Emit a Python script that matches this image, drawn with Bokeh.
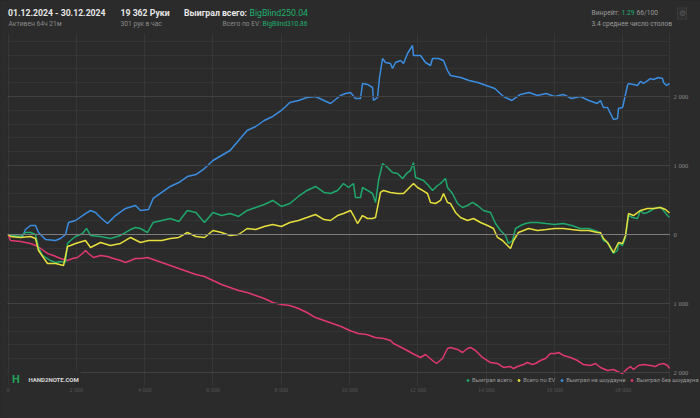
from bokeh.plotting import figure
from bokeh.models import (Range1d, FixedTicker, Span, Label, Legend, LegendItem,
                          ColumnDataSource, BoxAnnotation)
from bokeh.embed import file_html
from bokeh.resources import INLINE

# ---------------- data (hands played -> big blinds) ----------------
TOTAL_HANDS = 19362

# "Выиграл на шоудауне"
sd_hands = ([0, 249, 424, 512, 659, 805, 893, 1098, 1390, 1537, 1683, 1771, 1976, 2268, 2415, 2561,
             2707, 2912, 3147, 3439, 3732, 3878, 4113]
            + list(range(4250, 9251, 250))
            + [9440, 9733, 9879, 10025, 10171, 10318, 10376, 10523, 10669, 10698, 10815, 10874, 10962,
               11050, 11196, 11255, 11343, 11489, 11577, 11694, 11840, 11869, 12074, 12220, 12367,
               12425, 12601, 12747, 12864, 12952]
            + list(range(13250, 17251, 250))
            + [17342, 17430, 17547, 17635, 17723, 17840, 17869, 17986, 18015, 18132, 18162, 18308,
               18425, 18513, 18601, 18718, 18806, 18894, 19040, 19157, 19186, 19274, TOTAL_HANDS])
sd_bb = [0, -29, -29, 72, 130, 130, 29, -72, -87, -58, 0, 174, 203, 304, 348, 319, 246, 159, 275, 377,
         420, 348, 362,
         522, 609, 696, 753, 840, 869, 956, 1072, 1145, 1217, 1362, 1507, 1565, 1652, 1710, 1797, 1913,
         1942, 1985, 2000, 1942,
         1898, 2014, 2043, 2058, 1971, 1971, 2188, 2174, 2130, 1942, 1985, 2275, 2550, 2492, 2478, 2405,
         2492, 2521, 2478, 2623, 2739, 2594, 2594, 2492, 2449, 2550, 2550, 2521, 2376, 2304,
         2275, 2231, 2202, 2159, 2115, 2000, 1942, 2029, 2058, 2014, 2043, 2000, 2029, 1971, 2000, 1942,
         1898,
         1942, 1840, 1840, 1753, 1666, 1681, 1826, 1840, 1898, 2159, 2188, 2174, 2159, 2217, 2188, 2231,
         2260, 2246, 2275, 2260, 2202, 2159, 2188]

# "Выиграл всего"
tot_hands = ([0, 73, 366, 512, 659, 805, 893, 1010, 1244, 1390, 1537, 1683, 1742, 1829, 1976, 2181,
              2298, 2415, 2707, 3000, 3293, 3586, 3732, 3878, 4083]
             + list(range(4250, 9251, 250))
             + [9440, 9645, 9820, 9967, 10113, 10171, 10318, 10376, 10523, 10669, 10757, 10845, 10962,
                11108, 11255, 11401, 11548, 11694, 11782, 11869, 11928, 12016, 12162, 12308, 12425,
                12572, 12659, 12806, 12864, 13010, 13157, 13303, 13449, 13596, 13742, 13918, 14123,
                14269, 14416, 14562, 14650, 14767, 14855, 15001, 15147, 15294]
             + list(range(15500, 17251, 250))
             + [17342, 17430, 17547, 17635, 17723, 17840, 17869, 17986, 18074, 18162, 18279, 18425,
                18513, 18601, 18718, 18864, 19010, 19098, 19186, 19303, TOTAL_HANDS])
tot_bb = [0, -14, -29, 29, 29, 0, -188, -304, -377, -406, -391, -406, -130, -87, -29, 14, 87, -14, -29,
          -58, -14, 72, 101, 87, 29,
          174, 203, 232, 188, 348, 319, 174, 319, 275, 304, 261, 348, 391, 435, 493, 406, 449, 551,
          638, 696, 609,
          594, 638, 739, 681, 739, 536, 536, 681, 638, 594, 464, 782, 1029, 971, 898, 884, 811, 898,
          927, 1043, 826, 811, 782, 710, 638, 710, 739, 811, 681, 594, 449, 391, 420, 464, 420, 348,
          319, 159, 58, -14, -130, -87, 87, 130, 159, 174,
          174, 159, 145, 159, 130, 87, 87, 43,
          14, -87, -116, -203, -275, -232, -130, -159, -43, 275, 246, 232, 348, 304, 319, 362, 391, 391,
          348, 275, 250]

# "Всего по EV"
ev_hands = ([0, 73, 366, 659, 805, 893, 1156, 1390, 1625, 1742, 1829, 1976, 2268, 2415, 2707, 3000,
             3293, 3586, 3878, 4113]
            + list(range(4250, 9251, 250))
            + [9440, 9645, 9820, 10025, 10113, 10230, 10376, 10523, 10669, 10757, 10903, 10991, 11196,
               11401, 11577, 11723, 11869, 11986, 12133, 12279, 12367, 12513, 12659, 12747, 12864,
               12952, 13098, 13245, 13449, 13625, 13830, 14035, 14211, 14328, 14474, 14620, 14708,
               14796, 14942, 15089, 15235]
            + list(range(15500, 17251, 250))
            + [17342, 17430, 17547, 17635, 17723, 17869, 17986, 18074, 18162, 18308, 18513, 18718,
               18894, 19098, 19245, TOTAL_HANDS])
ev_bb = [0, -29, -43, -29, -58, -232, -420, -420, -449, -174, -159, -130, -87, -188, -116, -159, -130,
         -43, -116, -87,
         -87, -87, -58, -43, 29, -29, -43, 58, 29, -14, 0, 87, 72, 116, 145, 116, 174, 203, 246, 290,
         217,
         203, 275, 304, 348, 275, 159, 275, 232, 232, 246, 609, 638, 609, 594, 594, 667, 739, 681, 638,
         594, 464, 449, 493, 594, 464, 449, 319, 246, 203, 232, 174, 130, 87, -43, -87, -159, -203, -87,
         29, 58, 87,
         58, 72, 87, 87, 72, 58, 58, 29,
         29, -58, -116, -188, -261, -116, -130, -14, 304, 275, 348, 377, 377, 391, 362, 311]

# "Выиграл без шоудауна"
nsd_hands = ([0, 73, 366, 512, 659, 805, 951, 1156, 1332, 1537, 1742, 1888, 2034, 2181, 2268, 2356,
              2503, 2707, 2912, 3088, 3293, 3439, 3586, 3732, 3878, 4083]
             + list(range(4250, 11001, 250))
             + [11196, 11284, 11577, 11840, 12074, 12220, 12425, 12542, 12718, 12864, 12952, 13157,
                13303, 13449, 13537, 13684, 13889, 14123, 14328, 14503, 14708, 14796, 14913, 15089,
                15206, 15352, 15440, 15586, 15733, 15879, 16025, 16113, 16259, 16464, 16669, 16845,
                17050, 17196, 17342, 17547, 17723, 17840, 17986, 18132, 18220, 18308, 18454, 18601,
                18806, 18952, 19040, 19186, 19303, TOTAL_HANDS])
nsd_bb = [0, -87, -101, -116, -130, -159, -203, -275, -304, -348, -377, -348, -333, -275, -232, -275,
          -333, -304, -319, -348, -377, -406, -377, -348, -348, -333,
          -362, -406, -449, -493, -536, -580, -609, -667, -725, -768, -811, -840, -884, -927, -985,
          -1014, -1029, -1072, -1130, -1203, -1246, -1290, -1333, -1391, -1435, -1449, -1492, -1507,
          -1536, -1579, -1652, -1724, -1782, -1739, -1826, -1869, -1797, -1652, -1637, -1666, -1710,
          -1652, -1637, -1681, -1782, -1855, -1869, -1927, -1913, -1942, -1913, -1884, -1855, -1884,
          -1869, -1826, -1797, -1724, -1724, -1710, -1753, -1782, -1826, -1884, -1898, -1869, -1927,
          -1971, -1956, -1985, -2014, -1942, -1913, -1956, -1898, -1884, -1898, -1913, -1884, -1869,
          -1898, -1942]

series_names = ["Выиграл всего", "Всего по EV", "Выиграл на шоудауне", "Выиграл без шоудауна"]
series_colors = ["#1fa86b", "#e6df3c", "#3b8de0", "#e0386f"]
x_ticks = list(range(0, 19000, 2000))
y_ticks = [-2000, -1000, 0, 1000, 2000]
y_minor = list(range(-2200, 3000, 200))
y_major_lines = [-2000, -1000, 1000, 2000]

# ---------------- geometry (frame = whole canvas, pixel layout of the page) ----------------
W, H = 700, 418
LEFT_PX, RIGHT_PX = 7.5, 669.0       # chart area horizontally
TOP_PX, BOTTOM_PX = 33.0, 385.0      # chart area vertically
ZERO_PX = 234.0                      # y pixel of value 0
UNITS_PER_PX = 14.49
HPX = TOTAL_HANDS / (RIGHT_PX - LEFT_PX)   # hands per pixel


def hx(px):
    return (px - LEFT_PX) * HPX


def vy(py):
    return (ZERO_PX - py) * UNITS_PER_PX


BG = "#2b2b2b"
GREEN = "#1fb06e"

p = figure(width=W, height=H, output_backend="svg", toolbar_location=None,
           x_range=Range1d(hx(0), hx(W)), y_range=Range1d(vy(H), vy(0)),
           background_fill_color=BG, border_fill_color=BG,
           min_border_left=0, min_border_right=0, min_border_top=0, min_border_bottom=0)
p.outline_line_color = None
p.xaxis.visible = False
p.yaxis.visible = False

p.xgrid.ticker = FixedTicker(ticks=x_ticks + [TOTAL_HANDS])
p.xgrid.grid_line_color = "#363636"
p.ygrid.ticker = FixedTicker(ticks=y_minor)
p.ygrid.grid_line_color = "#343434"

for v in y_major_lines:
    p.add_layout(Span(location=v, dimension="width", line_color="#424242", line_width=1))
p.add_layout(Span(location=0, dimension="width", line_color="#7c7c7c", line_width=1))

series = [(tot_hands, tot_bb), (ev_hands, ev_bb), (sd_hands, sd_bb), (nsd_hands, nsd_bb)]
for i in [2, 3, 0, 1]:
    xs, ys = series[i]
    p.line(x=xs, y=ys, line_color=series_colors[i], line_width=1.5)

# mask the grid outside the chart area
p.add_layout(BoxAnnotation(bottom=vy(TOP_PX), fill_color=BG, fill_alpha=1, line_alpha=0))
p.add_layout(BoxAnnotation(top=vy(BOTTOM_PX), fill_color=BG, fill_alpha=1, line_alpha=0))
p.add_layout(BoxAnnotation(left=hx(RIGHT_PX + 0.5), fill_color=BG, fill_alpha=1, line_alpha=0))
p.add_layout(BoxAnnotation(right=hx(LEFT_PX - 0.5), fill_color=BG, fill_alpha=1, line_alpha=0))
# watermark panel
p.add_layout(BoxAnnotation(left=hx(LEFT_PX + 0.6), right=hx(80), top=vy(371), bottom=vy(BOTTOM_PX),
                           fill_color=BG, fill_alpha=1, line_alpha=0))


def fmt(v):
    return f"{abs(v):,}".replace(",", " ")


# tick labels
ytl = ColumnDataSource(dict(x=[TOTAL_HANDS] * len(y_ticks), y=y_ticks, t=[fmt(v) for v in y_ticks]))
p.text("x", "y", "t", source=ytl, x_offset=4, text_align="left", text_baseline="middle",
       text_font_size="6.5px", text_font="Roboto", text_color="#8a8a8a", level="overlay")
xtl = ColumnDataSource(dict(x=x_ticks, y=[vy(389.5)] * len(x_ticks), t=[fmt(v) for v in x_ticks]))
p.text("x", "y", "t", source=xtl, text_align="center", text_baseline="middle",
       text_font_size="6px", text_font="Roboto", text_color="#555555", level="overlay")

# legend with dot markers (a single NaN point, so that the marker size is known)
nan = float("nan")
items = []
for i, name in enumerate(series_names):
    r = p.scatter(x=[nan], y=[nan], size=4, color=series_colors[i])
    items.append(LegendItem(label=name, renderers=[r]))
leg = Legend(items=items, orientation="horizontal", location=(465, 34),
             background_fill_alpha=0, border_line_alpha=0, label_text_color="#9a9a9a",
             label_text_font_size="5.8px", label_text_font="Roboto", glyph_width=5, glyph_height=6,
             label_height=8, spacing=4, padding=0, margin=0, label_standoff=2)
p.add_layout(leg, "center")


# header texts
def lab(px, py, text, color="#e6e6e6", size="8.7px", bold=False, align="left"):
    p.add_layout(Label(x=hx(px), y=vy(py), text=text, text_color=color,
                       text_font_size=size, text_font="Roboto",
                       text_font_style="bold" if bold else "normal",
                       text_baseline="middle", text_align=align))


SMALL = "6.7px"
lab(7.5, 12.5, "01.12.2024 - 30.12.2024", bold=True)
lab(8, 23, "Активен 64ч 21м", color="#8a8a8a", size=SMALL)
lab(120, 12.5, "19 362 Руки", bold=True)
lab(120, 23, "301 рук в час", color="#8a8a8a", size=SMALL)
lab(246.5, 12.5, "Выиграл всего:", bold=True, align="right")
lab(249, 12.5, "BigBlind250.04", color=GREEN)
lab(260.5, 23, "Всего по EV:", color="#8a8a8a", size=SMALL, align="right")
lab(262, 23, "BigBlind310.86", color=GREEN, size=SMALL)
lab(591, 12, "Винрейт:", color="#9a9a9a", size=SMALL)
lab(621, 12, "1.29", color=GREEN, size=SMALL)
lab(636, 12, "66/100", color="#9a9a9a", size=SMALL)
lab(591, 23, "3.4 среднее число столов", color="#9a9a9a", size=SMALL)
p.add_layout(Label(x=hx(681.5), y=vy(13), text="⚙",
                   text_color="#5a5a5a", text_font_size="8px", text_baseline="middle",
                   text_align="center", border_line_color="#3c3c3c", background_fill_color="#2f2f2f",
                   padding=1))

# watermark
lab(11.5, 378.5, "H", color="#22a45a", size="11px", bold=True)
lab(28, 378.5, "HAND2NOTE.COM", color="#d8d8d8", size="6px", bold=True)

html = file_html(p, INLINE)
html = html.replace("</head>", "<style>body{background:#2b2b2b;}</style></head>", 1)
open("out.html", "w").write(html)
